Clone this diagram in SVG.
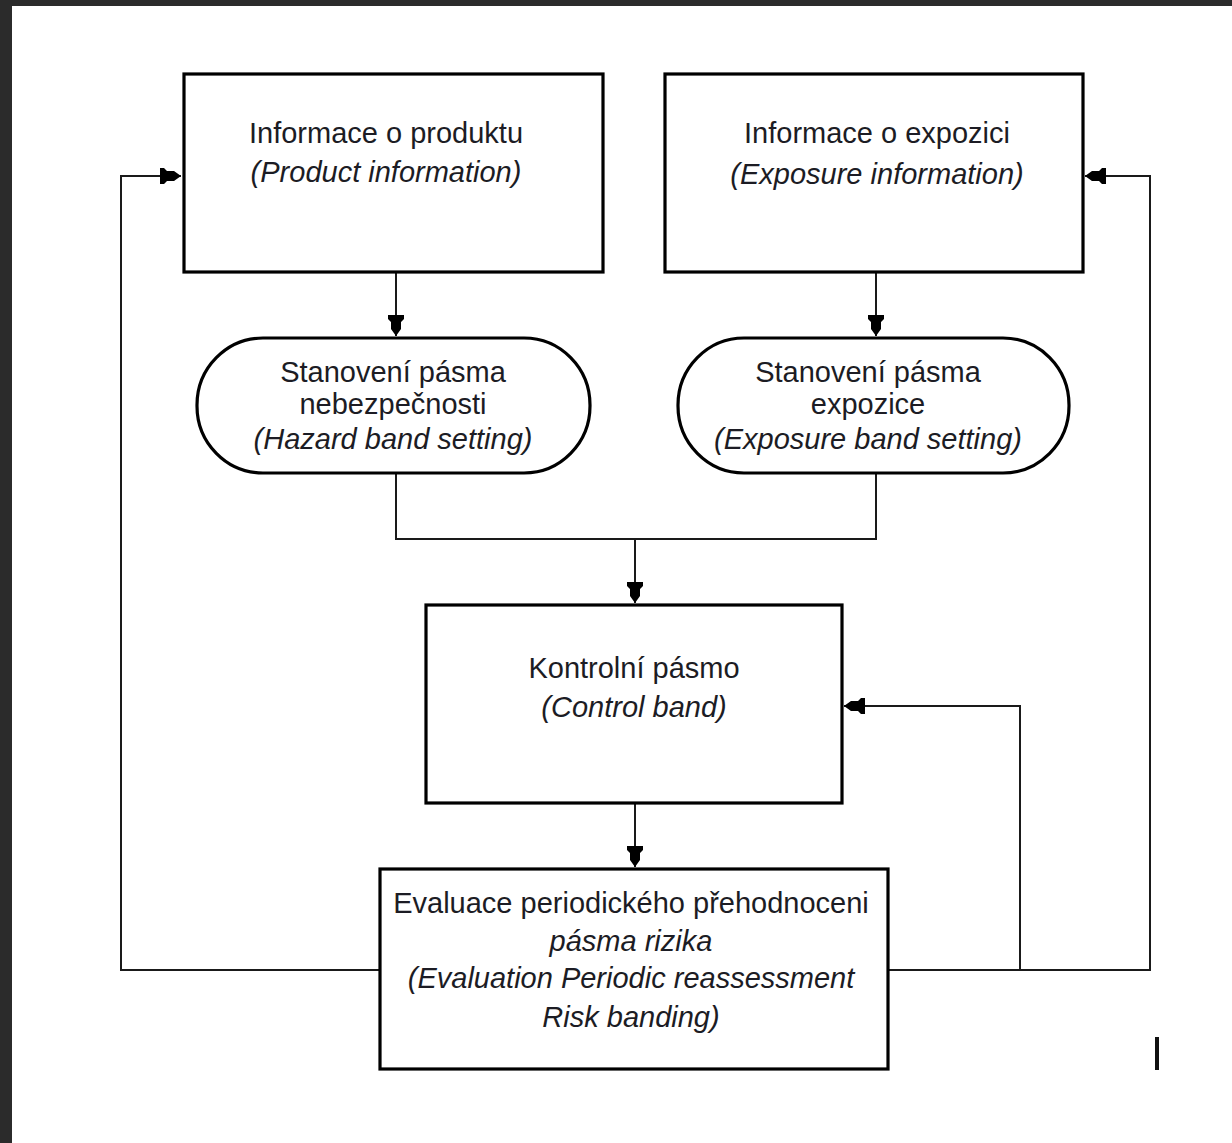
<svg xmlns="http://www.w3.org/2000/svg" width="1232" height="1143" viewBox="0 0 1232 1143">
  <style>
    .box { fill: #ffffff; stroke: #000000; stroke-width: 3.2; }
    .wire { fill: none; stroke: #1a1a1a; stroke-width: 2; }
    text { font-family: "Liberation Sans", Arial, sans-serif; font-size: 29px; fill: #1c1c24; text-anchor: middle; }
    .it { font-style: italic; }
  </style>
  <defs>
    <marker id="tip" markerUnits="userSpaceOnUse" markerWidth="24" markerHeight="20" viewBox="-22 -10 24 20" refX="0" refY="0" orient="auto">
      <path d="M0,0 L-7,-5 L-14,-5 L-17,-8 L-21,-8 L-21,8 L-17,8 L-14,5 L-7,5 Z" fill="#000000"/>
    </marker>
  </defs>

  <!-- page frame -->
  <rect x="0" y="0" width="1232" height="1143" fill="#ffffff"/>
  <rect x="0" y="0" width="1232" height="6" fill="#2b2b2b"/>
  <rect x="0" y="0" width="12" height="1143" fill="#2b2b2b"/>

  <!-- connectors -->
  <g id="connectors">
    <path class="wire" d="M396,272 V336" marker-end="url(#tip)"/>
    <path class="wire" d="M876,272 V336" marker-end="url(#tip)"/>
    <path class="wire" d="M396,474 V539 H876 V474"/>
    <path class="wire" d="M635,539 V603" marker-end="url(#tip)"/>
    <path class="wire" d="M635,803 V867" marker-end="url(#tip)"/>
    <path class="wire" d="M380,970 H121 V176 H181" marker-end="url(#tip)"/>
    <path class="wire" d="M888,970 H1150 V176 H1085" marker-end="url(#tip)"/>
    <path class="wire" d="M1020,970 V706 H844" marker-end="url(#tip)"/>
  </g>

  <g id="product-info">
    <rect class="box" x="184" y="74" width="419" height="198"/>
    <text x="386" y="143">Informace o produktu</text>
    <text class="it" x="386" y="182">(Product information)</text>
  </g>

  <g id="exposure-info">
    <rect class="box" x="665" y="74" width="418" height="198"/>
    <text x="877" y="143">Informace o expozici</text>
    <text class="it" x="877" y="184">(Exposure information)</text>
  </g>

  <g id="hazard-band">
    <rect class="box" x="197" y="338" width="393" height="135" rx="66" ry="67"/>
    <text x="393" y="382">Stanovení pásma</text>
    <text x="393" y="414">nebezpečnosti</text>
    <text class="it" x="393" y="449">(Hazard band setting)</text>
  </g>

  <g id="exposure-band">
    <rect class="box" x="678" y="338" width="391" height="135" rx="66" ry="67"/>
    <text x="868" y="382">Stanovení pásma</text>
    <text x="868" y="414">expozice</text>
    <text class="it" x="868" y="449">(Exposure band setting)</text>
  </g>

  <g id="control-band">
    <rect class="box" x="426" y="605" width="416" height="198"/>
    <text x="634" y="678">Kontrolní pásmo</text>
    <text class="it" x="634" y="717">(Control band)</text>
  </g>

  <g id="periodic-reassessment">
    <rect class="box" x="380" y="869" width="508" height="200"/>
    <text x="631" y="913">Evaluace periodického přehodnoceni</text>
    <text class="it" x="631" y="951">pásma rizika</text>
    <text class="it" x="631" y="988">(Evaluation Periodic reassessment</text>
    <text class="it" x="631" y="1027">Risk banding)</text>
  </g>

  <!-- stray cursor mark -->
  <rect x="1155" y="1037" width="4" height="33" fill="#111111"/>
</svg>
